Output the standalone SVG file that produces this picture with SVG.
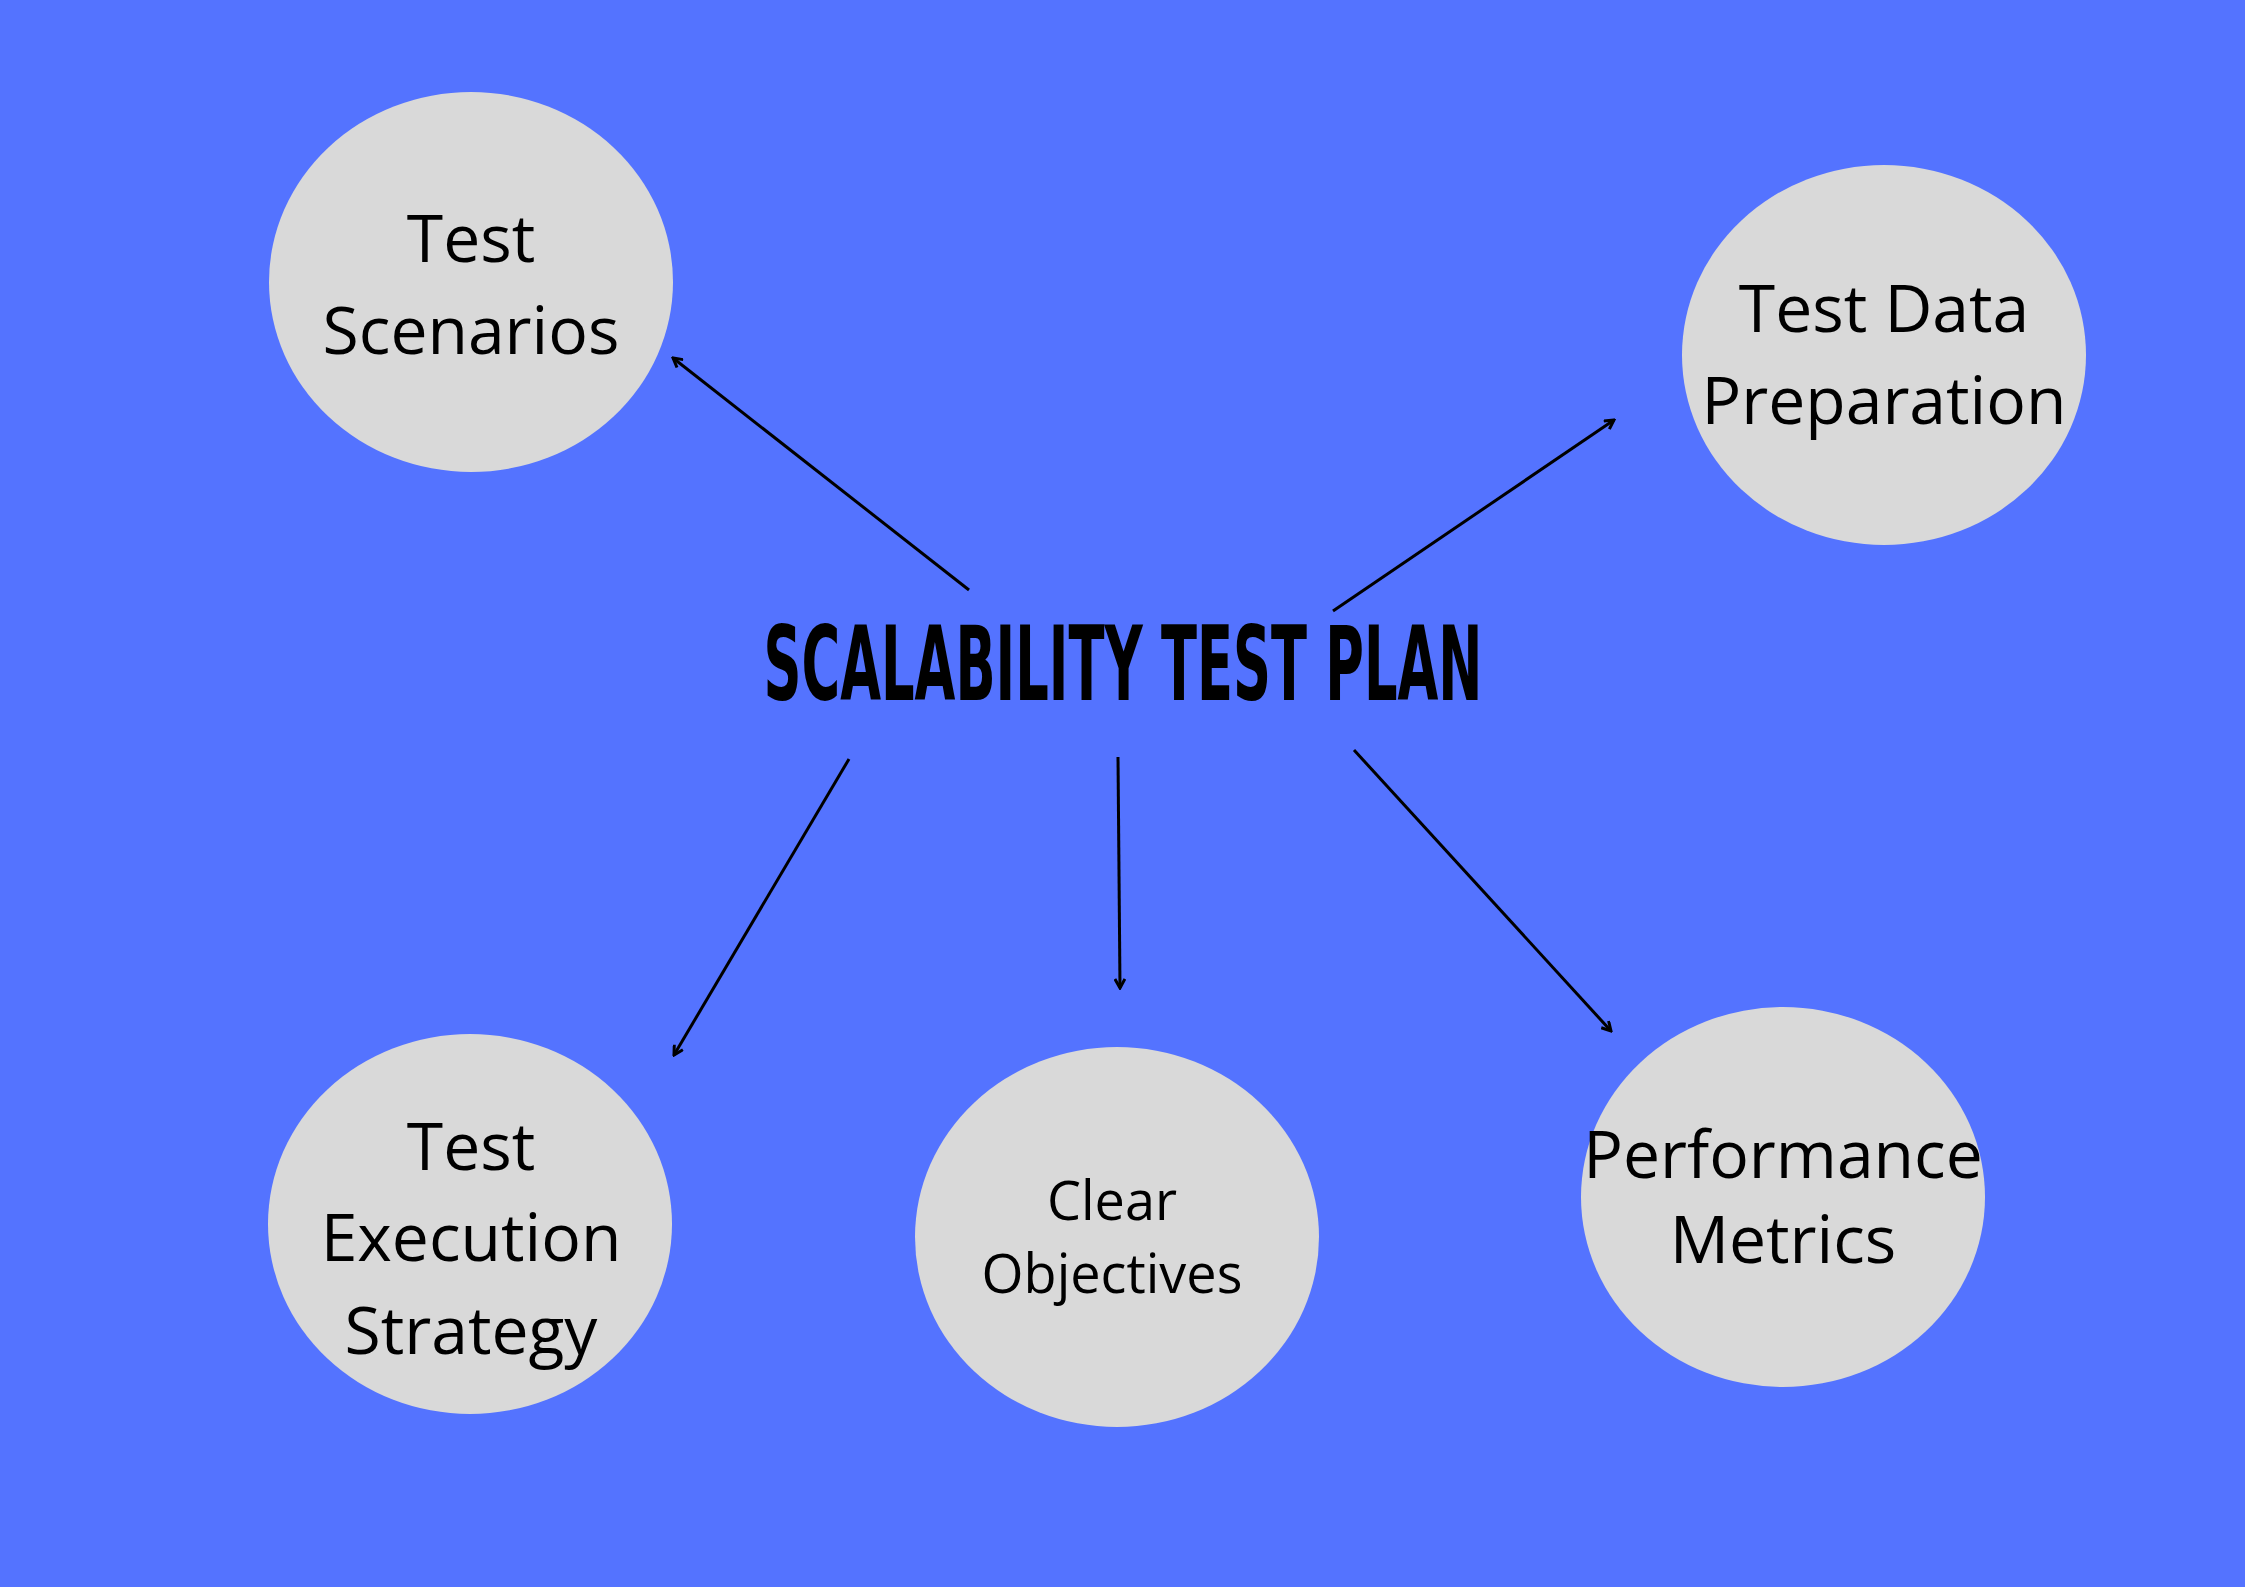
<svg xmlns="http://www.w3.org/2000/svg" width="2245" height="1587" viewBox="0 0 2245 1587">
<style>
.n{fill:#D9D9D9}
.t{font-family:"Open Sans","Noto Sans",sans-serif;font-size:66px;fill:#000;text-anchor:middle}
.s{font-size:54px}
.c{stroke:#000;stroke-width:3;fill:none;marker-end:url(#a)}
</style>
<defs><marker id="a" markerWidth="12" markerHeight="12" refX="10" refY="6" orient="auto" markerUnits="userSpaceOnUse"><path d="M1,1 L10,6 L1,11" fill="none" stroke="#000" stroke-width="3"/></marker></defs>
<rect width="2245" height="1587" fill="#5473FF"/>
<g id="title"><text x="1123" y="700" font-family="'DejaVu Sans Condensed','Liberation Sans',sans-serif" font-weight="bold" font-size="104" textLength="719" lengthAdjust="spacingAndGlyphs" text-anchor="middle" fill="#000">SCALABILITY TEST PLAN</text></g>
<g id="n1"><ellipse class="n" cx="471" cy="282" rx="202" ry="190"/><text class="t" x="471" y="262">Test</text><text class="t" x="471" y="354">Scenarios</text></g>
<g id="n2"><ellipse class="n" cx="1884" cy="355" rx="202" ry="190"/><text class="t" x="1884" y="332">Test Data</text><text class="t" x="1884" y="424">Preparation</text></g>
<g id="n3"><ellipse class="n" cx="470" cy="1224" rx="202" ry="190"/><text class="t" x="471" y="1170">Test</text><text class="t" x="471" y="1261">Execution</text><text class="t" x="471" y="1354">Strategy</text></g>
<g id="n4"><ellipse class="n" cx="1117" cy="1237" rx="202" ry="190"/><text class="t s" x="1112" y="1220">Clear</text><text class="t s" x="1112" y="1293">Objectives</text></g>
<g id="n5"><ellipse class="n" cx="1783" cy="1197" rx="202" ry="190"/><text class="t" x="1783" y="1178">Performance</text><text class="t" x="1783" y="1263">Metrics</text></g>
<g id="connectors">
<line class="c" x1="969" y1="590" x2="673" y2="358"/>
<line class="c" x1="1333" y1="611" x2="1614" y2="420"/>
<line class="c" x1="849" y1="759" x2="674" y2="1055"/>
<line class="c" x1="1118" y1="757" x2="1120" y2="988"/>
<line class="c" x1="1354" y1="750" x2="1611" y2="1031"/>
</g>
</svg>
